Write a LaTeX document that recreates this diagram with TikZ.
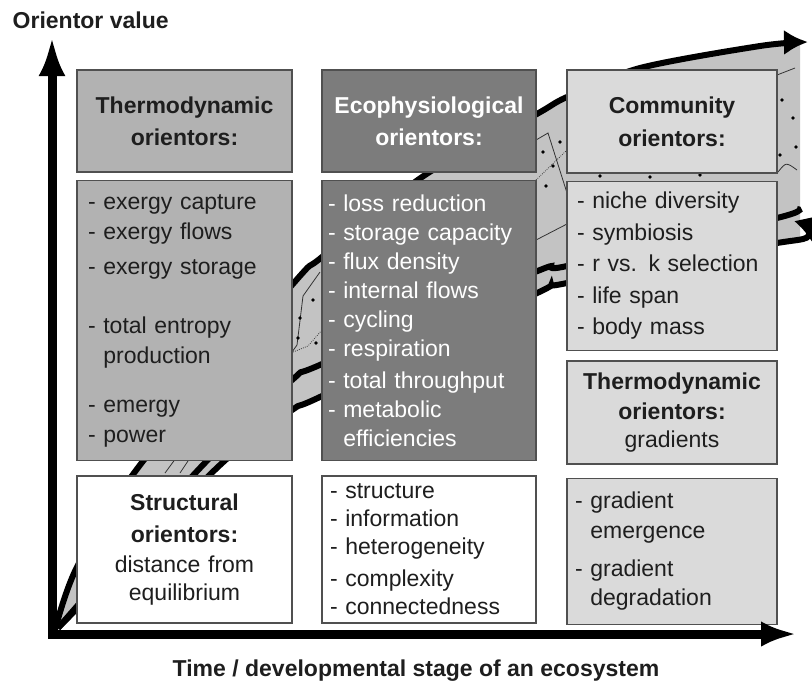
\documentclass[tikz,border=0pt]{standalone}
\usepackage{fontspec}
\setmainfont{Liberation Sans}
\usetikzlibrary{positioning}
\usetikzlibrary{arrows.meta}
\definecolor{boxline}{HTML}{505050}
\definecolor{txtdark}{HTML}{1E1E1E}
\definecolor{thermogrey}{HTML}{B2B2B2}
\definecolor{ecogrey}{HTML}{7C7C7C}
\definecolor{commgrey}{HTML}{DADADA}
\definecolor{bandgrey}{HTML}{C3C3C3}
\newcommand{\orfont}{\fontsize{17.25pt}{22.5pt}\selectfont}
\newcommand{\ind}{\phantom{- }}
\tikzstyle{orbox} = [draw=boxline, line width=1.1pt, inner ysep=0pt, font=\orfont, text=txtdark]
\tikzstyle{thermo} = [orbox, fill=thermogrey]
\tikzstyle{ecoph} = [orbox, fill=ecogrey, text=white]
\tikzstyle{commu} = [orbox, fill=commgrey]
\tikzstyle{plain} = [orbox, fill=white]
\tikzstyle{bandline} = [line width=4.5pt, black]
\tikzstyle{texline} = [line width=0.6pt, black!80]

\begin{document}
\begin{tikzpicture}[x=0.75pt, y=-0.75pt, node distance=5.25pt,
	wide/.style 2 args={text width=#1, inner xsep=#2},
	head/.style={minimum height=76.5pt, align=center},
	axis/.style={line width=6.75pt, black, {Latex[length=30pt,width=20pt]}-{Latex[length=27pt,width=19pt]}},
	axlabel/.style={font=\orfont\bfseries, text=txtdark}]
\useasboundingbox (0,0) rectangle (812,687);

% Band behind the boxes
\fill[bandgrey] plot[smooth] coordinates {(55,630) (77,567) (140,465) (292,285) (322,257) (425,175) (535,115) (567,97) (640,68) (760,46) (800,43)}
	-- (800,240) -- plot[smooth] coordinates {(777,243) (567,283) (535,294) (322,396) (292,410) (220,465) (58,628)} -- cycle;
\draw[bandline, -{Latex[length=18pt,width=19pt]}] plot[smooth] coordinates {(55,630) (77,567) (140,465) (292,285) (322,257) (425,175) (535,115) (567,97) (640,68) (760,46) (808,42)};
\draw[bandline] plot[smooth] coordinates {(58,628) (200,468) (292,380) (322,364) (535,272) (567,266) (777,218) (797,209)};
\draw[bandline, -{Latex[length=18pt,width=20pt]}] plot[smooth] coordinates {(58,628) (220,465) (292,410) (322,396) (535,294) (567,283) (777,243) (812,242)};

% texture inside the band
\draw[texline] (320,272) -- (303,296) -- (297,345) -- (292,352);
\draw[texline, densely dotted] (293,352) -- (308,346) -- (322,330);
\draw[texline] (536,140) -- (548,133) -- (567,193);
\draw[texline] (536,240) -- (567,224);
\draw[texline, densely dotted] (536,180) -- (567,150);
\draw[texline] (777,75) -- (795,68);
\draw[texline] (778,172) .. controls (786,162) .. (797,170);
\draw[texline] (165,473) -- (176,458);
\draw[texline] (180,473) -- (190,458);
\foreach \p in {(300,318),(313,300),(298,338),(316,343),(543,152),(553,166),(546,186),(560,142),(782,100),(793,118),(796,147),(780,155),(600,176),(650,177),(700,175)}
	\fill \p circle (1.4pt);

% Define nodes
\node[thermo, head, wide={149.25pt}{6pt}]						(thhead)	at (184.5,121) {\textbf{Thermodynamic}\\[1.5pt]\textbf{orientors:}};
\node[thermo, below = of thhead, minimum height=210pt, wide={144.75pt}{8.25pt}, align=left]	(thlist)	{- exergy capture\\- exergy flows\\[3.75pt]- exergy storage\\[21.75pt]- total entropy\\\ind production\\[14.25pt]- emergy\\- power};
\node[plain, below = 10.5pt of thlist, minimum height=110.25pt, wide={149.25pt}{6pt}, align=center]	(struct)	{\textbf{Structural}\\[1.5pt]\textbf{orientors:}\\distance from\\[-1.5pt]equilibrium};

\node[ecoph, head, wide={148.5pt}{6pt}]						(ecohead)	at (429,121) {\textbf{Ecophysiological}\\[1.5pt]\textbf{orientors:}};
\node[ecoph, below = of ecohead, minimum height=210pt, wide={151.5pt}{4.5pt}, align=left, font=\fontsize{17.25pt}{21.75pt}\selectfont]	(ecolist)	{- loss reduction\\- storage capacity\\- flux density\\- internal flows\\- cycling\\- respiration\\[2.25pt]- total throughput\\- metabolic\\\ind efficiencies};
\node[plain, below = 10.5pt of ecolist, minimum height=110.25pt, wide={148.5pt}{6pt}, align=left, font=\fontsize{17.25pt}{21pt}\selectfont]	(ecostruct)	{- structure\\- information\\- heterogeneity\\[3pt]- complexity\\- connectedness};

\node[commu, head, wide={145.5pt}{6pt}, minimum height=77.25pt]			(comhead)	at (672,121.5) {\textbf{Community}\\[2.25pt]\textbf{orientors:}};
\node[commu, below = of comhead, minimum height=126.75pt, wide={142.5pt}{7.5pt}, align=left, font=\fontsize{17.25pt}{23.6pt}\selectfont]	(comlist)	{- niche diversity\\- symbiosis\\- r vs. k selection\\- life span\\- body mass};
\node[commu, below = 6.75pt of comlist, minimum height=77.25pt, wide={145.5pt}{6pt}, align=center]	(gradhead)	{\textbf{Thermodynamic}\\\textbf{orientors:}\\[-1.5pt]gradients};
\node[commu, below = 9.75pt of gradhead, minimum height=109.5pt, wide={145.5pt}{6pt}, align=left]	(gradlist)	{- gradient\\\ind emergence\\[6pt]- gradient\\[-0.75pt]\ind degradation};

% Axes
\coordinate (ytop)	at (52,36);
\coordinate (xend)	at (797,634);
\draw[axis] (ytop) |- (xend);
\node[axlabel, anchor=west]	(ylabel)	at (8,20)	{Orientor value};
\node[axlabel]				(xlabel)	at (416,671)	{Time / developmental stage of an ecosystem};
\end{tikzpicture}
\end{document}
